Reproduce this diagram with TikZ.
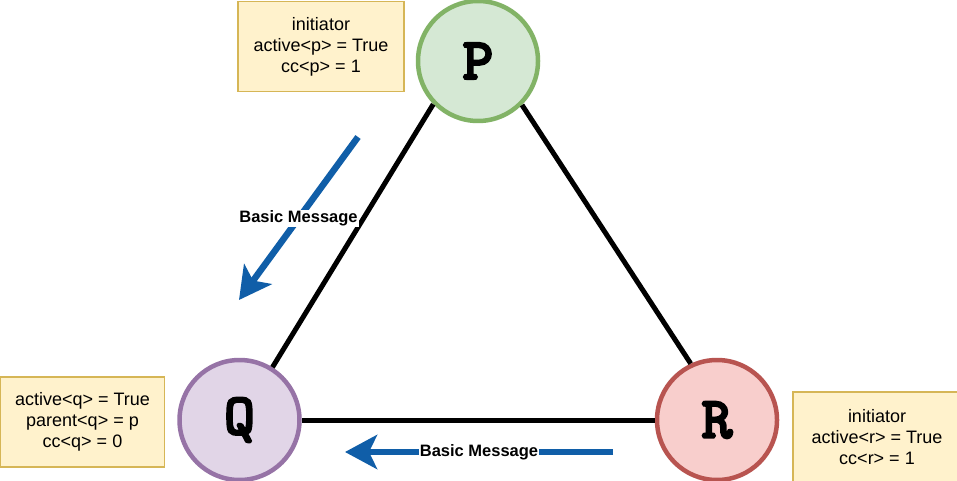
\documentclass[tikz,border=0pt]{standalone}
\usepackage{fontspec}
\setmainfont{Liberation Sans}
\newfontfamily\monofam{lmmono10-regular.otf}[FakeBold=4.5]
\usetikzlibrary{arrows.meta}
\definecolor{pfill}{HTML}{D5E8D4}\definecolor{pline}{HTML}{82B366}
\definecolor{qfill}{HTML}{E1D5E7}\definecolor{qline}{HTML}{9673A6}
\definecolor{rfill}{HTML}{F8CECC}\definecolor{rline}{HTML}{B85450}
\definecolor{nfill}{HTML}{FFF2CC}\definecolor{nline}{HTML}{D6B656}
\definecolor{msgblue}{RGB}{16,94,168}
\begin{document}
\begin{tikzpicture}[x=1pt,y=-1pt,
 proc/.style={circle, minimum size=120pt, inner sep=0pt, line width=4.5pt, font=\monofam\fontsize{58}{58}\selectfont},
 notebox/.style={draw=nline, fill=nfill, line width=1.5pt, minimum width=166pt, minimum height=90pt, align=center, inner sep=0pt, font=\fontsize{18}{21}\selectfont},
 link/.style={line width=5pt, draw=black},
 msg/.style={draw=msgblue, line width=6.5pt, -{Stealth[length=32pt,width=34pt,inset=8pt]}},
 msglabel/.style={fill=white, inner sep=1pt, font=\bfseries\fontsize{16.5}{18}\selectfont}
]
\useasboundingbox (0,0) rectangle (957,481);
\fill[white] (0,0) rectangle (957,481);
\node[proc, draw=pline, fill=pfill] (P) at (478,61) {P};
\node[proc, draw=qline, fill=qfill] (Q) at (239.5,420) {Q};
\node[proc, draw=rline, fill=rfill] (R) at (717,420) {R};
\draw[link] (P.224) -- (Q.58);
\draw[link] (P.315) -- (R.115);
\draw[link] (Q) -- (R);
\node[notebox] (np) at (321,46.5) {initiator\\active<p> = True\\cc<p> = 1};
\node[notebox, minimum width=164pt] (nq) at (82.5,422) {active<q> = True\\parent<q> = p\\cc<q> = 0};
\node[notebox, minimum width=168pt] (nr) at (877,437) {initiator\\active<r> = True\\cc<r> = 1};
\coordinate (m1s) at (358,137);
\coordinate (m1e) at (239,300);
\coordinate (m2s) at (613,452);
\coordinate (m2e) at (345,452);
\draw[msg] (m1s) -- (m1e) node[midway, msglabel] (l1) {Basic Message};
\draw[msg] (m2s) -- (m2e) node[midway, msglabel] (l2) {Basic Message};
\end{tikzpicture}
\end{document}
